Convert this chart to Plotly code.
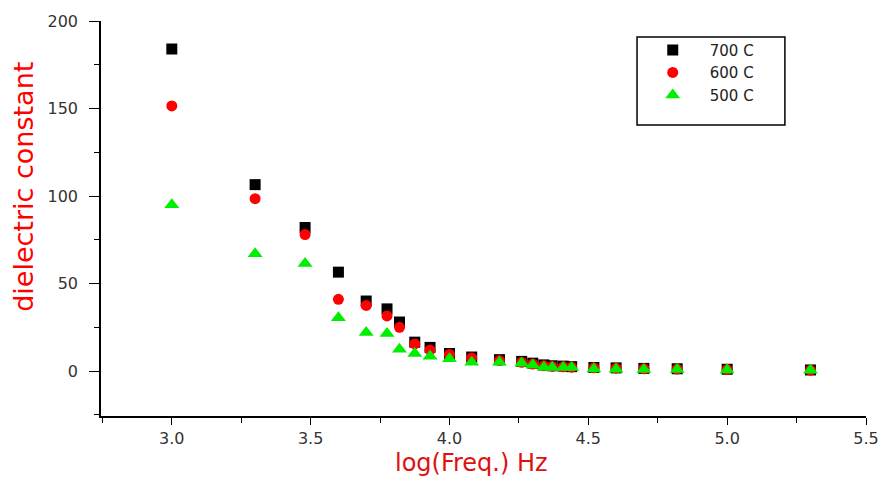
import plotly.graph_objects as go

log_freq = [3.0, 3.3, 3.48, 3.6, 3.7, 3.775, 3.82, 3.875, 3.93, 4.0, 4.08, 4.18,
            4.26, 4.30, 4.34, 4.37, 4.41, 4.44, 4.52, 4.60, 4.70, 4.82, 5.0, 5.3]

eps_700 = [184, 106.5, 82, 56.5, 40, 35.5, 28, 16.5, 13.5, 10, 8, 6.5,
           5.5, 4.5, 3.5, 3.0, 2.8, 2.5, 2.0, 1.8, 1.5, 1.3, 1.0, 0.6]
eps_600 = [151.5, 98.5, 78, 41, 37.5, 31.5, 25, 15.5, 12, 9.5, 7.5, 6,
           5, 4, 3, 2.6, 2.4, 2.2, 1.8, 1.6, 1.3, 1.1, 0.8, 0.5]
eps_500 = [95, 67, 61.5, 30.5, 22, 21.5, 12.5, 10, 8.5, 7, 5, 5,
           4.5, 3.5, 2.2, 2.0, 2.0, 2.0, 1.2, 1.0, 0.9, 0.8, 0.6, 0.4]

series_names = ["700 C", "600 C", "500 C"]
x_ticks = [3.0, 3.5, 4.0, 4.5, 5.0, 5.5]
y_ticks = [0, 50, 100, 150, 200]

fig = go.Figure()
fig.add_trace(go.Scatter(x=log_freq, y=eps_700, mode="markers", name=series_names[0],
                         marker=dict(symbol="square", size=11, color="#000000", line=dict(width=0))))
fig.add_trace(go.Scatter(x=log_freq, y=eps_600, mode="markers", name=series_names[1],
                         marker=dict(symbol="circle", size=11, color="#ff0000", line=dict(width=0))))
fig.add_trace(go.Scatter(x=log_freq, y=eps_500, mode="markers", name=series_names[2],
                         marker=dict(symbol="triangle-up", size=13, color="#00ee00", line=dict(width=0))))

tickfont = dict(family="DejaVu Sans", size=16, color="#333333")

fig.update_layout(
    width=888, height=478,
    margin=dict(l=93, r=30, t=13, b=70, autoexpand=False),
    paper_bgcolor="white", plot_bgcolor="white",
    showlegend=True,
    legend=dict(x=0.699, y=0.968, xanchor="left", yanchor="top",
                bgcolor="rgba(0,0,0,0)", borderwidth=0,
                font=dict(family="DejaVu Sans", size=15, color="#222222"),
                itemwidth=64, tracegroupgap=0),
    xaxis=dict(range=[2.745, 5.5], tickvals=x_ticks, ticktext=[f"{v:.1f}" for v in x_ticks],
               automargin=False,
               showgrid=False, zeroline=False, showline=True, linecolor="#000000", linewidth=1.5,
               ticks="outside", ticklen=7, tickwidth=1.2, tickcolor="#000000",
               minor=dict(dtick=0.25, tick0=0, ticks="outside", ticklen=5, tickwidth=1.2, tickcolor="#000000"),
               tickfont=tickfont),
    yaxis=dict(range=[-25.7, 200], tickvals=y_ticks, automargin=False,
               showgrid=False, zeroline=False, showline=True, linecolor="#000000", linewidth=1.5,
               ticks="outside", ticklen=10, tickwidth=1.2, tickcolor="#000000",
               minor=dict(dtick=25, tick0=0, ticks="outside", ticklen=5, tickwidth=1.2, tickcolor="#000000"),
               tickfont=tickfont, ticklabelstandoff=8),
    annotations=[
        dict(text="dielectric constant", textangle=-90, xref="paper", yref="paper",
             x=-0.1007, y=0.58, xanchor="center", yanchor="middle", showarrow=False,
             font=dict(family="DejaVu Sans", size=27, color="#ff0000")),
        dict(text="log(Freq.) Hz", xref="paper", yref="paper",
             x=0.484, y=-0.118, xanchor="center", yanchor="middle", showarrow=False,
             font=dict(family="DejaVu Sans", size=24, color="#e01010")),
    ],
    shapes=[dict(type="rect", xref="paper", yref="paper", x0=0.7007, x1=0.894, y0=0.7367, y1=0.9595,
                 line=dict(color="#000000", width=1.5), fillcolor="rgba(0,0,0,0)")],
)

fig.write_html("out.html")
